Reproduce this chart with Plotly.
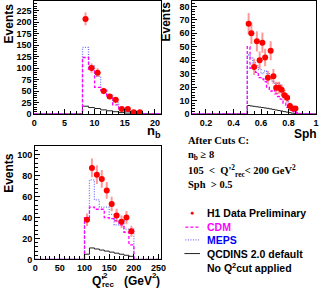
import plotly.graph_objects as go

W, H = 324, 291

# ---------------- data ----------------
# Panel 1: n_b
NB_EDGES = [8, 9, 10, 11, 12, 13, 14, 15, 16, 17, 18, 19, 20, 21]
NB_CDM = [123, 97, 58, 52, 35, 20, 9, 5, 3, 1.5, 1, 0.5, 0.3]
NB_MEPS = [145, 104, 82, 52, 41, 25, 14, 7, 4, 2, 1, 0.5, 0.3]
NB_INS = [17, 14, 12, 9, 7, 5, 3, 2, 1.5, 1, 0.5, 0.3, 0.2]
NB_X = [8.5, 9.5, 10.5, 11.5, 12.5, 13.5, 14.5, 15.5, 16.5, 17.5]
NB_DATA = [207, 100, 90, 50, 38, 31, 11, 11, 4, 4]
NB_ERR = [14, 10, 9.5, 7, 6, 5.5, 3.3, 3.3, 2, 2]

# Panel 2: Sph
SPH_EDGES = [0.50, 0.52, 0.54, 0.56, 0.58, 0.60, 0.62, 0.64, 0.66, 0.68, 0.70,
             0.72, 0.74, 0.76, 0.78, 0.80, 0.82, 0.84, 0.86, 0.88, 0.90, 0.92]
SPH_CDM = [50, 34, 36, 31, 27, 26, 24, 20, 17, 18, 15, 13, 11, 8, 5, 3, 2, 1, 0.5, 0.3, 0.1]
SPH_MEPS = [44, 42, 38, 36, 33, 30, 32, 30, 26, 24, 22, 23, 18, 14, 10, 6, 4, 2, 1, 0.5, 0.2]
SPH_INS = [6.3, 6.0, 5.7, 5.4, 5.1, 4.8, 4.5, 4.2, 3.8, 3.4, 3.0, 2.6, 2.2, 1.8, 1.4, 1.0, 0.6, 0.3, 0.1, 0, 0]
SPH_X = [0.51, 0.53, 0.55, 0.57, 0.59, 0.61, 0.63, 0.65, 0.67, 0.69, 0.71, 0.73,
         0.75, 0.77, 0.79, 0.81, 0.83, 0.85]
SPH_DATA = [67, 60, 35, 54, 40, 53, 42, 27, 47, 28, 19.5, 19.5, 18, 14, 12, 6, 4, 4]
SPH_ERR = [8, 8, 6, 7.5, 6.5, 7.5, 6.5, 5, 7, 5.5, 4.5, 4.5, 4.2, 3.8, 3.5, 2.5, 2, 2]

# Panel 3: Q'^2_rec
Q2_EDGES = [100, 110, 120, 130, 140, 150, 160, 170, 180, 190, 200]
Q2_CDM = [40, 50, 48, 48, 40, 39, 37, 33, 26, 14]
Q2_MEPS = [40, 76, 57, 50, 50, 43, 33, 37, 29, 29]
Q2_INS = [5, 11, 10, 9, 8, 7, 6, 5, 4, 3]
Q2_X = [105, 115, 125, 135, 145, 155, 165, 175, 185, 195]
Q2_DATA = [38, 87.5, 81, 77, 66, 53, 42, 36, 40, 27]
Q2_ERR = [6, 9, 9, 8.5, 8, 7, 6.5, 6, 6.3, 5.2]

RED = "#ff0000"
ERRC = "rgba(255,70,70,0.55)"
MAG = "#ff00ff"
BLUE = "#7070ff"
BLK = "#222222"


def step(edges, vals, lo, hi):
    x = [lo] + list(edges) + [hi]
    y = [0] + list(vals) + [0, 0]
    return x, y


def px(xp):
    return xp / W


def py(yp):
    return 1 - yp / H


fig = go.Figure()

panels = [
    ("x", "y", NB_EDGES, NB_CDM, NB_MEPS, NB_INS, NB_X, NB_DATA, NB_ERR, 0, 21, 0.5),
    ("x2", "y2", SPH_EDGES, SPH_CDM, SPH_MEPS, SPH_INS, SPH_X, SPH_DATA, SPH_ERR, 0.1, 1.0, 0.01),
    ("x3", "y3", Q2_EDGES, Q2_CDM, Q2_MEPS, Q2_INS, Q2_X, Q2_DATA, Q2_ERR, 0, 255, 5),
]

for xa, ya, edges, cdm, meps, ins, dx, dy, de, lo, hi, hw in panels:
    xs, ys = step(edges, ins, lo, hi)
    fig.add_trace(go.Scatter(x=xs, y=ys, mode="lines", line=dict(color=BLK, width=1, shape="hv"),
                             xaxis=xa, yaxis=ya, showlegend=False, hoverinfo="skip"))
    xs, ys = step(edges, meps, lo, hi)
    fig.add_trace(go.Scatter(x=xs, y=ys, mode="lines",
                             line=dict(color=BLUE, width=1.3, shape="hv", dash="1px,1.5px"),
                             xaxis=xa, yaxis=ya, showlegend=False, hoverinfo="skip"))
    xs, ys = step(edges, cdm, lo, hi)
    fig.add_trace(go.Scatter(x=xs, y=ys, mode="lines",
                             line=dict(color=MAG, width=1.3, shape="hv", dash="3px,2px"),
                             xaxis=xa, yaxis=ya, showlegend=False, hoverinfo="skip"))
    fig.add_trace(go.Scatter(x=dx, y=dy, mode="markers",
                             marker=dict(color=RED, size=6, symbol="circle"),
                             error_y=dict(type="data", array=de, color=ERRC, thickness=2, width=0),
                             error_x=dict(type="constant", value=hw, color=ERRC, thickness=1.5, width=0),
                             xaxis=xa, yaxis=ya, showlegend=False, hoverinfo="skip"))

tickfont = dict(family="Liberation Sans, Arial", size=9, color="black", weight="bold")
axcommon = dict(showgrid=False, zeroline=False, showline=True, linecolor="black", linewidth=1,
                mirror=True, ticks="inside", ticklen=5, tickcolor="black", tickfont=tickfont)

fig.update_layout(
    width=W, height=H, margin=dict(l=0, r=0, t=0, b=0),
    paper_bgcolor="white", plot_bgcolor="white",
    xaxis=dict(domain=[px(32), px(162)], range=[0, 21], anchor="y", tickvals=[0, 5, 10, 15, 20],
               minor=dict(ticks="inside", ticklen=3, dtick=1, tickcolor="black"), **axcommon),
    yaxis=dict(domain=[py(116), py(1)], range=[0, 246], anchor="x", dtick=25,
               minor=dict(ticks="inside", ticklen=3, dtick=5, tickcolor="black"), **axcommon),
    xaxis2=dict(domain=[px(194), px(321)], range=[0.1, 1.0], anchor="y2", tick0=0, dtick=0.2,
                minor=dict(ticks="inside", ticklen=3, dtick=0.05, tickcolor="black"), **axcommon),
    yaxis2=dict(domain=[py(116), py(1)], range=[0, 84], anchor="x2", dtick=10,
                minor=dict(ticks="inside", ticklen=3, dtick=2, tickcolor="black"), **axcommon),
    xaxis3=dict(domain=[px(33), px(162)], range=[0, 255], anchor="y3", dtick=50,
                minor=dict(ticks="inside", ticklen=3, dtick=10, tickcolor="black"), **axcommon),
    yaxis3=dict(domain=[py(264), py(149)], range=[0, 108], anchor="x3", dtick=20,
                minor=dict(ticks="inside", ticklen=3, dtick=4, tickcolor="black"), **axcommon),
)

ann = []
SANS = "Liberation Sans, Arial"
SERIF = "Liberation Serif, Times New Roman"


def txt(x, y, s, size=11, color="black", fam=SANS, angle=0, xa="left", ya="middle"):
    ann.append(dict(x=px(x), y=py(y), xref="paper", yref="paper", text=s, showarrow=False,
                    xanchor=xa, yanchor=ya, textangle=angle, borderpad=0,
                    font=dict(family=fam, size=size, color=color, weight="bold")))


txt(6, 24, "Events", 12, angle=-90, xa="center")
txt(167, 22, "Events", 12, angle=-90, xa="center")
txt(6, 176, "Events", 12, angle=-90, xa="center")
txt(155, 143, "n<sub>b</sub>", 13, xa="center", ya="bottom")
txt(310, 136, "Sph", 12, xa="center")

# Q'^2_rec (GeV^2) axis title with stacked super/subscript
txt(90, 285.5, "Q'", 12)
txt(102, 280, "2", 8)
txt(100, 289, "rec", 8)
txt(123, 285.5, "(GeV", 12)
txt(152, 280, "2", 8)
txt(156, 285.5, ")", 12)

txt(189, 143, "After Cuts C:", 10.5, fam=SERIF)
txt(189, 158, "n<sub>b</sub> ≥ 8", 10.5, fam=SERIF)
txt(189, 174, "105  <  Q'<sup>2</sup><sub>rec</sub>< 200 GeV<sup>2</sup>", 10.5, fam=SERIF)
txt(189, 188, "Sph  > 0.5", 10.5, fam=SERIF)

txt(208, 217, "H1 Data Preliminary", 10.5)
txt(208, 231, "CDM", 10.5, color=MAG)
txt(208, 244, "MEPS", 10.5, color="#0000ff")
txt(208, 258, "QCDINS 2.0 default", 10.5)
txt(208, 272, "No Q<sup>2</sup>cut applied", 10.5)

shapes = [
    dict(type="circle", xref="paper", yref="paper", x0=px(192.5), x1=px(195.5), y0=py(218.5), y1=py(215.5),
         fillcolor=RED, line=dict(color=RED, width=0)),
    dict(type="line", xref="paper", yref="paper", x0=px(187), x1=px(202), y0=py(231), y1=py(231),
         line=dict(color=MAG, width=1.3, dash="3px,2px")),
    dict(type="line", xref="paper", yref="paper", x0=px(187), x1=px(202), y0=py(244), y1=py(244),
         line=dict(color=BLUE, width=1.3, dash="1px,1.5px")),
    dict(type="line", xref="paper", yref="paper", x0=px(186), x1=px(202), y0=py(258), y1=py(258),
         line=dict(color=BLK, width=1)),
]
fig.update_layout(annotations=ann, shapes=shapes)

fig.write_html("out.html", config={"displayModeBar": False},
               post_script="document.body.style.margin='0px';document.body.style.overflow='hidden';")
